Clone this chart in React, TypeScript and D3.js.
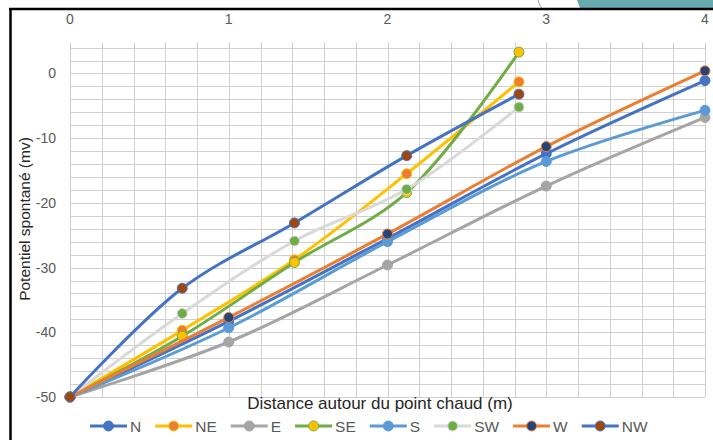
import React, { useRef, useEffect } from 'react';
import * as d3 from 'd3';

// distances: cardinal directions every 1 m, diagonals every 0.707 m
const xCardinal = [0, 1, 2, 3, 4];
const xDiagonal = [0, 0.707, 1.414, 2.121, 2.828];

const nVals = [-50, -38.3, -25.5, -12.4, -1.1];
const neVals = [-50, -39.7, -28.8, -15.5, -1.3];
const eVals = [-50, -41.5, -29.6, -17.4, -6.8];
const seVals = [-50, -40.6, -29.2, -18.4, 3.3];
const sVals = [-50, -39.3, -26.0, -13.6, -5.7];
const swVals = [-50, -37.1, -25.9, -17.9, -5.2];
const wVals = [-50, -37.7, -24.8, -11.3, 0.4];
const nwVals = [-50, -33.2, -23.1, -12.7, -3.2];

const xTicks = [0, 1, 2, 3, 4];
const yTicks = [0, -10, -20, -30, -40, -50];

const series = [
  { name: 'N', xs: xCardinal, ys: nVals, line: '#4472C4', marker: '#4472C4' },
  { name: 'NE', xs: xDiagonal, ys: neVals, line: '#FFC000', marker: '#ED7D31' },
  { name: 'E', xs: xCardinal, ys: eVals, line: '#A5A5A5', marker: '#A5A5A5' },
  { name: 'SE', xs: xDiagonal, ys: seVals, line: '#70AD47', marker: '#FFC000' },
  { name: 'S', xs: xCardinal, ys: sVals, line: '#5B9BD5', marker: '#5B9BD5' },
  { name: 'SW', xs: xDiagonal, ys: swVals, line: '#D9D9D9', marker: '#70AD47' },
  { name: 'W', xs: xCardinal, ys: wVals, line: '#ED7D31', marker: '#264478' },
  { name: 'NW', xs: xDiagonal, ys: nwVals, line: '#4472C4', marker: '#9E480E' },
];

const W = 713;
const H = 440;
const FONT = "'Liberation Sans', Arial, sans-serif";

function App() {
  const svgRef = useRef<SVGSVGElement>(null);

  useEffect(() => {
    const svg = d3.select(svgRef.current);
    svg.selectAll('*').remove();

    const x = d3.scaleLinear().domain([0, 4]).range([70, 705]);
    const y = d3.scaleLinear().domain([-50, 4.8]).range([397, 42.4]);

    // decoration above the frame (screen capture)
    svg.append('path')
      .attr('d', 'M577,0 L713,0 L713,8 L580,8 Z')
      .attr('fill', '#66A9AE');
    svg.append('path')
      .attr('d', 'M538,0 Q539,4 541.5,8')
      .attr('fill', 'none')
      .attr('stroke', '#A6A6A6')
      .attr('stroke-width', 1);

    // frame
    svg.append('line').attr('x1', 9).attr('x2', W).attr('y1', 9).attr('y2', 9)
      .attr('stroke', '#000').attr('stroke-width', 2.5);
    svg.append('line').attr('x1', 10.5).attr('x2', 10.5).attr('y1', 8).attr('y2', H)
      .attr('stroke', '#000').attr('stroke-width', 2.5);

    // grid
    const grid = svg.append('g');
    grid.selectAll('.vg')
      .data(d3.range(0, 4.0001, 0.2))
      .join('line')
      .attr('x1', d => Math.round(x(d)) + 0.5)
      .attr('x2', d => Math.round(x(d)) + 0.5)
      .attr('y1', y.range()[1])
      .attr('y2', y.range()[0])
      .attr('stroke', '#D0D0D0')
      .attr('stroke-width', 1);
    grid.selectAll('.hg')
      .data(d3.range(-50, 4.8, 2))
      .join('line')
      .attr('x1', x.range()[0])
      .attr('x2', x.range()[1])
      .attr('y1', d => Math.round(y(d)) + 0.5)
      .attr('y2', d => Math.round(y(d)) + 0.5)
      .attr('stroke', '#D0D0D0')
      .attr('stroke-width', 1);

    // x tick labels (axis at top)
    svg.selectAll('.xt')
      .data(xTicks)
      .join('text')
      .attr('x', d => x(d))
      .attr('y', 24)
      .attr('text-anchor', 'middle')
      .attr('font-family', FONT)
      .attr('font-size', 14)
      .attr('fill', '#595959')
      .text(d => d);

    // y tick labels
    svg.selectAll('.yt')
      .data(yTicks)
      .join('text')
      .attr('x', 56)
      .attr('y', d => y(d) + 5)
      .attr('text-anchor', 'end')
      .attr('font-family', FONT)
      .attr('font-size', 14)
      .attr('fill', '#595959')
      .text(d => d);

    // axis titles
    svg.append('text')
      .attr('x', 380)
      .attr('y', 409)
      .attr('text-anchor', 'middle')
      .attr('font-family', FONT)
      .attr('font-size', 17)
      .attr('fill', '#262626')
      .text('Distance autour du point chaud (m)');
    svg.append('text')
      .attr('transform', 'translate(30,219) rotate(-90)')
      .attr('text-anchor', 'middle')
      .attr('font-family', FONT)
      .attr('font-size', 15.5)
      .attr('fill', '#262626')
      .text('Potentiel spontané (mv)');

    // series: smooth lines + markers
    const line = d3.line<[number, number]>()
      .x(d => x(d[0]))
      .y(d => y(d[1]))
      .curve(d3.curveCatmullRom.alpha(0.5));

    series.forEach(s => {
      const pts: [number, number][] = s.xs.map((v, i) => [v, s.ys[i]]);
      const g = svg.append('g');
      g.append('path')
        .attr('d', line(pts))
        .attr('fill', 'none')
        .attr('stroke', s.line)
        .attr('stroke-width', 3)
        .attr('stroke-linecap', 'round');
      g.selectAll('circle')
        .data(pts)
        .join('circle')
        .attr('cx', d => x(d[0]))
        .attr('cy', d => y(d[1]))
        .attr('r', 5)
        .attr('fill', s.marker)
        .attr('stroke', s.line)
        .attr('stroke-width', 1);
    });

    // legend
    const legend = svg.append('g');
    let lx = 90;
    const ly = 426;
    series.forEach(s => {
      const g = legend.append('g');
      g.append('line')
        .attr('x1', lx).attr('x2', lx + 37)
        .attr('y1', ly).attr('y2', ly)
        .attr('stroke', s.line)
        .attr('stroke-width', 3);
      g.append('circle')
        .attr('cx', lx + 18.5).attr('cy', ly)
        .attr('r', 5)
        .attr('fill', s.marker)
        .attr('stroke', s.line)
        .attr('stroke-width', 1);
      const t = g.append('text')
        .attr('x', lx + 40)
        .attr('y', ly + 5.5)
        .attr('font-family', FONT)
        .attr('font-size', 15.5)
        .attr('fill', '#595959')
        .text(s.name);
      const tw = (t.node() as SVGTextElement).getComputedTextLength();
      lx += 40 + tw + 14;
    });
  }, []);

  return (
    <svg
      ref={svgRef}
      width={W}
      height={H}
      style={{ position: 'absolute', left: 0, top: 0, background: '#fff' }}
    />
  );
}

export default App;
